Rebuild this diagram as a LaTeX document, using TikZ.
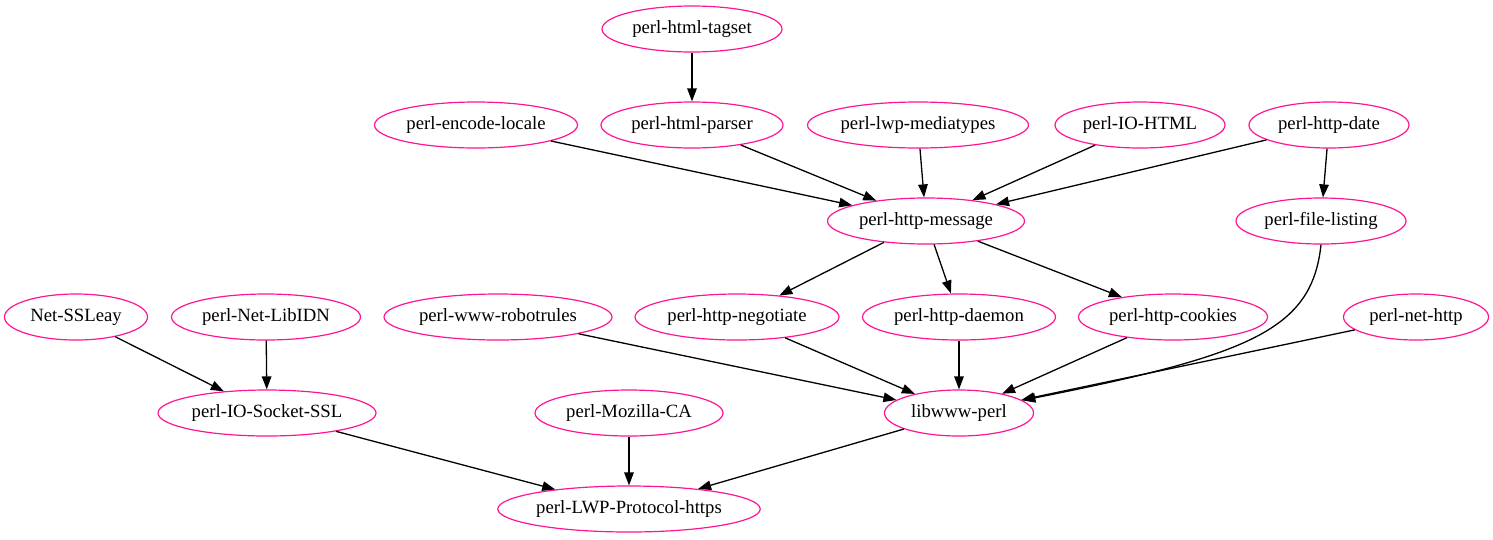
\documentclass[tikz,border=0pt]{standalone}
\usepackage{fontspec}
\setmainfont{Liberation Serif}
\usetikzlibrary{shapes.geometric,arrows.meta}
\definecolor{nodepink}{HTML}{FF1493}
\tikzset{
  pkg/.style={ellipse, draw=nodepink, line width=1.2pt, inner sep=0pt, minimum height=46pt,
    font=\fontsize{18.7pt}{22pt}\selectfont, text=black},
  dep/.style={draw=black, line width=1.3pt, -{Triangle[length=13pt,width=9.5pt]}},
}
\begin{document}
\begin{tikzpicture}[x=1pt,y=-1pt]
\useasboundingbox (0,0) rectangle (1493,539);
\node[pkg, minimum width=180pt] (tagset) at (692,29) {perl-html-tagset};
\node[pkg, minimum width=203pt] (enc) at (476,125) {perl-encode-locale};
\node[pkg, minimum width=182pt] (parser) at (692,125) {perl-html-parser};
\node[pkg, minimum width=221pt] (media) at (918,125) {perl-lwp-mediatypes};
\node[pkg, minimum width=170pt] (iohtml) at (1140,125) {perl-IO-HTML};
\node[pkg, minimum width=160pt] (date) at (1329,125) {perl-http-date};
\node[pkg, minimum width=197pt] (msg) at (926,221) {perl-http-message};
\node[pkg, minimum width=170pt] (fl) at (1321,221) {perl-file-listing};
\node[pkg, minimum width=143pt] (ssleay) at (76,317) {Net-SSLeay};
\node[pkg, minimum width=189pt] (idn) at (266,317) {perl-Net-LibIDN};
\node[pkg, minimum width=228pt] (robot) at (498,317) {perl-www-robotrules};
\node[pkg, minimum width=204pt] (nego) at (737,317) {perl-http-negotiate};
\node[pkg, minimum width=193pt] (daemon) at (959,317) {perl-http-daemon};
\node[pkg, minimum width=189pt] (cookies) at (1173,317) {perl-http-cookies};
\node[pkg, minimum width=145pt] (nethttp) at (1416,317) {perl-net-http};
\node[pkg, minimum width=218pt] (iossl) at (267,413) {perl-IO-Socket-SSL};
\node[pkg, minimum width=188pt] (moz) at (629,413) {perl-Mozilla-CA};
\node[pkg, minimum width=149pt] (lib) at (959,413) {libwww-perl};
\node[pkg, minimum width=262pt] (lwp) at (629,509) {perl-LWP-Protocol-https};

\draw[dep] (tagset) -- (parser);
\draw[dep] (enc) -- (msg);
\draw[dep] (parser) -- (msg);
\draw[dep] (media) -- (msg);
\draw[dep] (iohtml) -- (msg);
\draw[dep] (date) -- (msg);
\draw[dep] (date) -- (fl);
\draw[dep] (msg) -- (nego);
\draw[dep] (msg) -- (daemon);
\draw[dep] (msg) -- (cookies);
\draw[dep] (ssleay) -- (iossl);
\draw[dep] (idn) -- (iossl);
\draw[dep] (robot) -- (lib);
\draw[dep] (nego) -- (lib);
\draw[dep] (daemon) -- (lib);
\draw[dep] (cookies) -- (lib);
\draw[dep] (nethttp) -- (lib);
\draw[dep] (fl.south) .. controls (1312,330) and (1250,355) .. (lib);
\draw[dep] (iossl) -- (lwp);
\draw[dep] (moz) -- (lwp);
\draw[dep] (lib) -- (lwp);
\end{tikzpicture}
\end{document}
